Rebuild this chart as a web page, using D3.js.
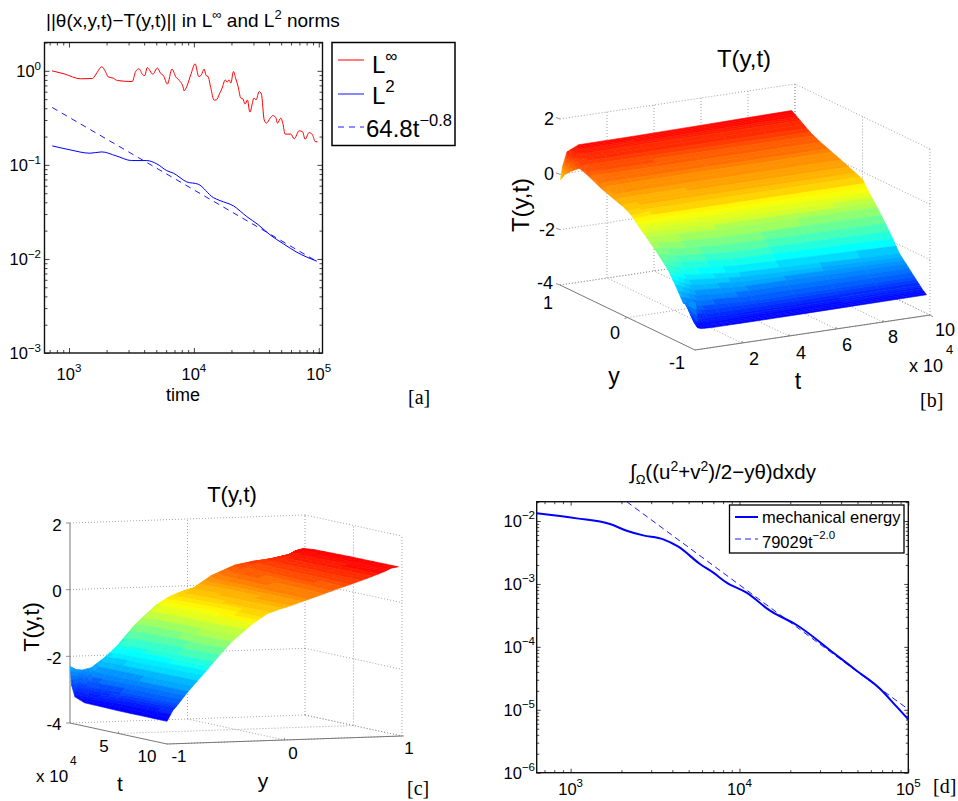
<!DOCTYPE html>
<html><head><meta charset="utf-8">
<script src="https://cdn.jsdelivr.net/npm/d3@7"></script>
<style>html,body{margin:0;padding:0;background:#fff}svg{display:block}text{font-family:"Liberation Sans",Arial,sans-serif;fill:#000}</style>
</head><body><svg id="c" width="958" height="801"></svg>
<script>
// ---- panel [a]: log10(time), log10(norm)
const aLinfLogT=[2.864,2.960,3.094,3.187,3.227,3.262,3.294,3.313,3.355,3.387,3.507,3.534,3.561,3.591,3.607,3.627,3.671,3.708,3.735,3.756,3.788,3.825,3.855,3.881,3.916,3.921,3.943,3.975,4.010,4.039,4.060,4.082,4.098,4.114,4.135,4.162,4.180,4.204,4.226,4.252,4.266,4.282,4.296,4.317,4.336,4.354,4.376,4.392,4.410,4.429,4.448,4.482,4.498,4.523,4.541,4.563,4.581,4.611,4.632,4.656,4.669,4.696,4.712,4.731,4.777,4.803,4.843,4.869,4.891,4.923,4.950,4.971,4.990];
const aLinfLogV=[0,-.032,-.085,-.082,-.014,.043,-.014,-.064,-.078,-.103,-.114,-.007,.021,-.043,-.05,.035,-.035,.029,-.029,-.05,-.141,.018,-.064,-.099,-.184,-.213,-.167,-.043,.074,-.061,-.043,.018,-.05,-.061,-.178,-.312,-.309,-.248,-.184,-.096,-.120,-.096,-.131,-.007,-.085,-.167,-.290,-.298,-.354,-.309,-.439,-.290,-.309,-.220,-.248,-.521,-.556,-.503,-.476,-.497,-.556,-.503,-.556,-.673,-.673,-.723,-.638,-.646,-.727,-.656,-.681,-.752,-.755];
const aL2LogT=[2.866,3.008,3.168,3.262,3.377,3.502,3.623,3.703,3.783,3.836,3.943,4.034,4.156,4.210,4.317,4.424,4.517,4.611,4.718,4.825,4.985];
const aL2LogV=[-.798,-.840,-.876,-.862,-.904,-.954,-.954,-.989,-1.061,-1.088,-1.181,-1.205,-1.348,-1.380,-1.436,-1.550,-1.638,-1.745,-1.840,-1.929,-2.024];
const aFitLogT=[2.866,4.990];
const aFitLogV=[-.39,-2.03];
const aMajorX=[1e3,1e4,1e5], aMajorY=[1,1e-1,1e-2,1e-3];
// ---- panel [d]
const dEnergyLogT=[2.799,3.036,3.233,3.332,3.430,3.549,3.638,3.766,3.845,3.924,4.042,4.181,4.339,4.556,4.694,4.832,4.931,5.000];
const dEnergyLogV=[-1.878,-1.958,-2.048,-2.154,-2.228,-2.291,-2.408,-2.683,-2.821,-2.980,-3.139,-3.425,-3.653,-4.093,-4.379,-4.665,-4.951,-5.152];
const dFitLogT=[3.332,5.0];
const dFitLogV=[-1.693,-4.993];
const dMajorX=[1e3,1e4,1e5], dMajorY=[1e-2,1e-3,1e-4,1e-5,1e-6];
// ---- surfaces: T(y,t) read per view
const bY=[-1,-.95,-.9,-.82,-.7,-.6,-.45,-.27,-.15,-.05,.05,.2,.4,.57,.72,.87,.94,1];
const bTimes=[.02,.12,.3,.8,3,9.85];
const bRows=[
[-2.3,-2.35,-2.42,-2.52,-2.0,-1.6,-1.2,-.77,-.5,-.25,-.1,.03,.2,.41,.55,.23,.05,-.2],
[-3.22,-3.1,-2.9,-2.55,-2.02,-1.62,-1.22,-.78,-.5,-.25,-.1,.04,.22,.44,.62,.5,.4,.3],
[-3.26,-3.2,-3.0,-2.6,-2.1,-1.7,-1.25,-.8,-.5,-.25,-.1,.05,.24,.45,.65,.75,.78,.78],
[-3.28,-3.22,-3.08,-2.72,-2.3,-1.85,-1.35,-.82,-.5,-.2,-.08,.05,.24,.43,.63,.82,.9,.97],
[-3.28,-3.2,-3.05,-2.8,-2.42,-2.05,-1.5,-.9,-.52,-.2,-.08,.06,.25,.42,.62,.84,.92,.98],
[-3.25,-3.15,-3.02,-2.81,-2.49,-2.23,-1.6,-.95,-.55,-.18,-.08,.07,.26,.42,.6,.85,.97,1.06]];
const cY=[-1,-.95,-.9,-.82,-.7,-.6,-.45,-.27,-.15,-.05,.05,.2,.4,.56,.7,.85,.91,.97];
const cTimes=[.02,.15,.5,1.5,5,10];
const cRows=[
[-2.3,-2.4,-2.42,-2.36,-2.05,-1.73,-1.12,-.55,-.3,-.17,-.07,.28,.57,.67,.72,.82,.92,.9],
[-2.85,-2.8,-2.65,-2.42,-2.06,-1.72,-1.12,-.55,-.3,-.17,-.06,.24,.54,.66,.73,.84,.95,1.0],
[-3.18,-3.05,-2.9,-2.48,-2.05,-1.7,-1.1,-.55,-.28,-.14,-.04,.2,.5,.64,.74,.86,.98,1.02],
[-3.3,-3.12,-2.88,-2.47,-2.02,-1.66,-1.06,-.52,-.25,-.12,-.02,.2,.48,.62,.74,.9,1.02,1.05],
[-3.32,-3.03,-2.82,-2.46,-2.0,-1.62,-1.03,-.5,-.22,-.1,0,.2,.45,.61,.75,.93,1.04,1.07],
[-3.32,-3.0,-2.8,-2.45,-1.98,-1.58,-1.0,-.48,-.2,-.08,.02,.19,.42,.6,.76,.95,1.05,1.08]];
const zTicks=[-4,-2,0,2];

const svg=d3.select('#c');
const MINUS='\u2212';
function rich(sel,parts){ // parts: [text,size,baselineOffset]
  let cur=0;
  parts.forEach(([s,size,off=0])=>{
    sel.append('tspan').attr('dy',off-cur).attr('font-size',size).text(s);
    cur=off;
  });
  return sel;
}
function text(g,x,y,anchor,parts){
  return rich(g.append('text').attr('x',x).attr('y',y).attr('text-anchor',anchor),parts);
}
function minors(scale){
  const [a,b]=scale.domain().map(Math.log10),lo=Math.min(a,b),hi=Math.max(a,b),o=[];
  for(let e=Math.floor(lo);e<=Math.ceil(hi);e++)for(let m=2;m<=9;m++){const v=m*10**e;const l=Math.log10(v);if(l>=lo&&l<=hi)o.push(v);}
  return o;
}
function logFrame(x,y,major,minor,xMaj,yMaj){
  const [x0,x1]=x.range(),[y0,y1]=y.range();
  const g=svg.append('g');
  const mk=(fn,scale,vals,len,tr)=>g.append('g').attr('transform',tr)
    .call(fn(scale).tickValues(vals).tickSize(len).tickFormat(''))
    .call(s=>{s.select('.domain').remove();s.selectAll('line').attr('stroke','#111').attr('stroke-width',.8);});
  [[xMaj,major],[minors(x),minor]].forEach(([v,l])=>{
    mk(d3.axisBottom,x,v,-l,`translate(0,${y1})`);
    mk(d3.axisTop,x,v,-l,`translate(0,${y0})`);
  });
  [[yMaj,major],[minors(y),minor]].forEach(([v,l])=>{
    mk(d3.axisLeft,y,v,-l,`translate(${x0},0)`);
    mk(d3.axisRight,y,v,-l,`translate(${x1},0)`);
  });
  g.append('rect').attr('x',x0).attr('y',y0).attr('width',x1-x0).attr('height',y1-y0)
   .attr('fill','none').attr('stroke','#111').attr('stroke-width',1.4);
  return g;
}
const expLabel=v=>{const e=Math.round(Math.log10(v));return e<0?MINUS+(-e):''+e;};
const zip=(a,b)=>a.map((d,i)=>[d,b[i]]);
function curve(x,y,lt,lv,color,w,dash){
  const l=d3.line().curve(d3.curveMonotoneX).x(d=>x(10**d[0])).y(d=>y(10**d[1]));
  const p=svg.append('path').attr('d',l(zip(lt,lv))).attr('fill','none').attr('stroke',color).attr('stroke-width',w);
  if(dash)p.attr('stroke-dasharray',dash);
}
const serif=t=>t.style('font-family','"Liberation Serif",serif');

// ===== panel a
{
  const x=d3.scaleLog().domain([10**2.804,10**5.03]).range([44.5,322.5]);
  const y=d3.scaleLog().domain([2,1e-3]).range([42.5,353]);
  const g=logFrame(x,y,5,3,aMajorX,aMajorY);
  aMajorX.forEach(v=>text(g,x(v),380,'middle',[['10',16.5],[expLabel(v),11.5,-8]]));
  aMajorY.forEach(v=>text(g,41,y(v)+6,'end',[['10',16.5],[expLabel(v),11.5,-7]]));
  curve(x,y,aFitLogT,aFitLogV,'#1a1aff',1,'6 5');
  curve(x,y,aLinfLogT,aLinfLogV,'#ff0000',1);
  curve(x,y,aL2LogT,aL2LogV,'#0000ff',1);
  text(svg,46,27,'start',[['||\u03b8(x,y,t)\u2212T(y,t)|| in L',19],['\u221e',13,-8],[' and L',19,0],['2',13,-8],[' norms',19,0]]);
  text(svg,183,401,'middle',[['time',18]]);
  serif(text(svg,408,404,'start',[['[a]',20]]));
  svg.append('rect').attr('x',332).attr('y',42.5).attr('width',123).attr('height',103).attr('fill','#fff').attr('stroke','#000').attr('stroke-width',1.5);
  const seg=(y0,c,w,d)=>{const l=svg.append('line').attr('x1',338).attr('x2',364).attr('y1',y0).attr('y2',y0).attr('stroke',c).attr('stroke-width',w);if(d)l.attr('stroke-dasharray',d);};
  seg(60,'#ff0000',1);seg(94,'#6b6bff',1.6);seg(127,'#1a1aff',1,'6 5');
  text(svg,372,73,'start',[['L',24],['\u221e',17,-11]]);
  text(svg,372,104,'start',[['L',24],['2',17,-12]]);
  text(svg,366,137,'start',[['64.8t',24],[MINUS+'0.8',16.5,-11]]);
}
// ===== panel d
{
  const x=d3.scaleLog().domain([10**2.799,1e5]).range([536.7,908.3]);
  const y=d3.scaleLog().domain([10**-1.693,1e-6]).range([501.7,772.7]);
  const g=logFrame(x,y,4,2.5,dMajorX,dMajorY);
  dMajorX.forEach(v=>text(g,x(v),795,'middle',[['10',16.5],[expLabel(v),11.5,-8]]));
  dMajorY.forEach(v=>text(g,535,y(v)+6,'end',[['10',16.5],[expLabel(v),11.5,-8]]));
  curve(x,y,dFitLogT,dFitLogV,'#1a1aff',1,'6 4');
  curve(x,y,dEnergyLogT,dEnergyLogV,'#0000ff',2);
  text(svg,630,479,'start',[['\u222b',20.5,0],['\u03a9',13,5],['((u',20.5,0],['2',14,-8],['+v',20.5,0],['2',14,-8],[')/2\u2212y\u03b8)dxdy',20.5,0]]);
  serif(text(svg,933,793,'start',[['[d]',20]]));
  svg.append('rect').attr('x',729.5).attr('y',505).attr('width',174.5).attr('height',48).attr('fill','#fff').attr('stroke','#000').attr('stroke-width',1.3);
  svg.append('line').attr('x1',735).attr('x2',758).attr('y1',517).attr('y2',517).attr('stroke','#0000ff').attr('stroke-width',2);
  svg.append('line').attr('x1',735).attr('x2',758).attr('y1',539).attr('y2',539).attr('stroke','#1a1aff').attr('stroke-dasharray','6 4');
  text(svg,762,523,'start',[['mechanical energy',16.5]]);
  text(svg,762,548,'start',[['79029t',16.5],[MINUS+'2.0',11.5,-9]]);
}
// ===== 3-D surfaces
const jet=d3.scaleLinear().domain([-3.25,-1.85,-.45,1.0]).range(['#0000ff','#00ffff','#ffff00','#ff0000']).clamp(true);
const bands=d3.scaleQuantize().domain([-3.35,1.1]).range(d3.range(46).map(i=>jet(-3.35+(i+.5)*4.45/46)));

function surface3d(c){
  const g=svg.append('g');
  const tx=d3.scaleLinear().domain([0,10]).range([0,c.tv[0]]), ty=d3.scaleLinear().domain([0,10]).range([0,c.tv[1]]);
  const yx=d3.scaleLinear().domain([-1,1]).range([0,c.yv[0]]), yy=d3.scaleLinear().domain([-1,1]).range([0,c.yv[1]]);
  const zs=d3.scaleLinear().domain([-4,2]).range([0,-c.zh]);
  const P=(t,y,z)=>[c.o[0]+tx(t)+yx(y),c.o[1]+ty(t)+yy(y)+zs(z)];
  const dotted=(a,b)=>g.append('path').attr('d',d3.line()([a,b])).attr('fill','none').attr('stroke','#999').attr('stroke-width',.9).attr('stroke-dasharray','1 2');
  const solid=(a,b,w=1)=>g.append('path').attr('d',d3.line()([a,b])).attr('fill','none').attr('stroke','#777').attr('stroke-width',w);
  zTicks.forEach(z=>{
    dotted(P(0,1,z),P(10,1,z));
    dotted(P(c.wallT,-1,z),P(c.wallT,1,z));
  });
  c.gridT.forEach(t=>{dotted(P(t,1,-4),P(t,1,2));dotted(P(t,-1,-4),P(t,1,-4));});
  c.gridY.forEach(y=>{dotted(P(c.wallT,y,-4),P(c.wallT,y,2));dotted(P(0,y,-4),P(10,y,-4));});
  c.solid.forEach(([a,b])=>solid(P(...a),P(...b)));
  c.ticks.forEach(([a,d])=>{const p=P(...a);solid(p,[p[0]+d[0],p[1]+d[1]],.8);});
  // surface, far cells first
  const rows=c.rows,times=c.times,ys=c.ys,nT=4,nY=3,mix=d3.interpolateNumber;
  const cells=[];
  const ti=d3.range(times.length-1);
  (c.tDesc?ti.slice().reverse():ti).forEach(i=>{
    const subT=d3.range(nT);
    (c.tDesc?subT.slice().reverse():subT).forEach(a=>{
      const a0=a/nT,a1=(a+1)/nT,t0=mix(times[i],times[i+1])(a0),t1=mix(times[i],times[i+1])(a1);
      for(let j=ys.length-2;j>=0;j--)for(let b=nY-1;b>=0;b--){
        const b0=b/nY,b1=(b+1)/nY,y0=mix(ys[j],ys[j+1])(b0),y1=mix(ys[j],ys[j+1])(b1);
        const Z=(A,B)=>mix(mix(rows[i][j],rows[i][j+1])(B),mix(rows[i+1][j],rows[i+1][j+1])(B))(A);
        const z00=Z(a0,b0),z01=Z(a0,b1),z11=Z(a1,b1),z10=Z(a1,b0);
        cells.push({pts:[P(t0,y0,z00),P(t0,y1,z01),P(t1,y1,z11),P(t1,y0,z10)],z:(z00+z01+z11+z10)/4});
      }
    });
  });
  const closed=d3.line().curve(d3.curveLinearClosed);
  g.append('g').selectAll('path').data(cells).join('path').attr('d',d=>closed(d.pts))
    .attr('fill',d=>bands(d.z)).attr('stroke',d=>bands(d.z)).attr('stroke-width',.6).attr('stroke-linejoin','round');
}
function centered(g,x,y,s,size,rot){
  const t=g.append('text').attr('x',x).attr('y',y).attr('text-anchor','middle').attr('dominant-baseline','central').attr('font-size',size).text(s);
  if(rot!==undefined)t.attr('transform',`rotate(${rot} ${x} ${y})`);
}
// panel b: t=0,y=-1 nearest the viewer
surface3d({o:[695,350],tv:[235,-35],yv:[-135,-65],zh:166,rows:bRows,times:bTimes,ys:bY,tDesc:true,wallT:10,
  gridT:[2,4,6,8,10],gridY:[0,-1,1],
  solid:[[[0,1,-4],[0,-1,-4]],[[0,-1,-4],[10,-1,-4]]],
  ticks:[[[0,1,2],[-4,-1.5]],[[0,1,0],[-4,-1.5]],[[0,1,-2],[-4,-1.5]],[[0,1,-4],[-4,-1.5]],[[0,0,-4],[-3,1]],[[2,-1,-4],[0,-2]],[[4,-1,-4],[0,-2]],[[6,-1,-4],[0,-2]],[[8,-1,-4],[0,-2]],[[10,-1,-4],[3,2]]]});
[[549,119,'2'],[549,174,'0'],[547,230,'-2'],[545,283,'-4'],[548,303,'1'],[615,333,'0'],[677,363,'-1'],[754,359,'2'],[801,353,'4'],[847,345,'6'],[893,337,'8'],[945,330,'10']]
  .forEach(([x,y,s])=>centered(svg,x,y,s,18));
centered(svg,614,376,'y',23);centered(svg,798,381,'t',23);centered(svg,520,205,'T(y,t)',24,-90);
centered(svg,744,58,'T(y,t)',24);
text(svg,909,372,'start',[['x 10',18]]);
text(svg,946,354,'start',[['4',13]]);
serif(text(svg,920,407,'start',[['[b]',20]]));
// panel c: t=10,y=-1 nearest the viewer
surface3d({o:[70,723],tv:[97,21],yv:[235,-8],zh:200,rows:cRows,times:cTimes,ys:cY,tDesc:false,wallT:0,
  gridT:[5,10],gridY:[0,1],
  solid:[[[0,-1,-4],[0,-1,2]],[[0,-1,-4],[10,-1,-4]],[[10,-1,-4],[10,1,-4]]],
  ticks:[[[0,-1,2],[-4,0]],[[0,-1,0],[-4,0]],[[0,-1,-2],[-4,0]],[[0,-1,-4],[-4,0]],[[5,-1,-4],[0,-2]],[[10,0,-4],[0,-2]],[[10,1,-4],[2,0]]]});
[[57,525,'2'],[57,591,'0'],[54,658,'-2'],[54,724,'-4'],[104,746,'5'],[147,756,'10'],[179,756,'-1'],[293,753,'0'],[409,748,'1']]
  .forEach(([x,y,s])=>centered(svg,x,y,s,17));
centered(svg,263,780,'y',21);centered(svg,120,783,'t',21);centered(svg,31,627,'T(y,t)',22,-90);
centered(svg,232,494,'T(y,t)',22);
text(svg,36,782,'start',[['x 10',17]]);
text(svg,70,765,'start',[['4',12]]);
serif(text(svg,407,795,'start',[['[c]',20]]));
</script></body></html>
